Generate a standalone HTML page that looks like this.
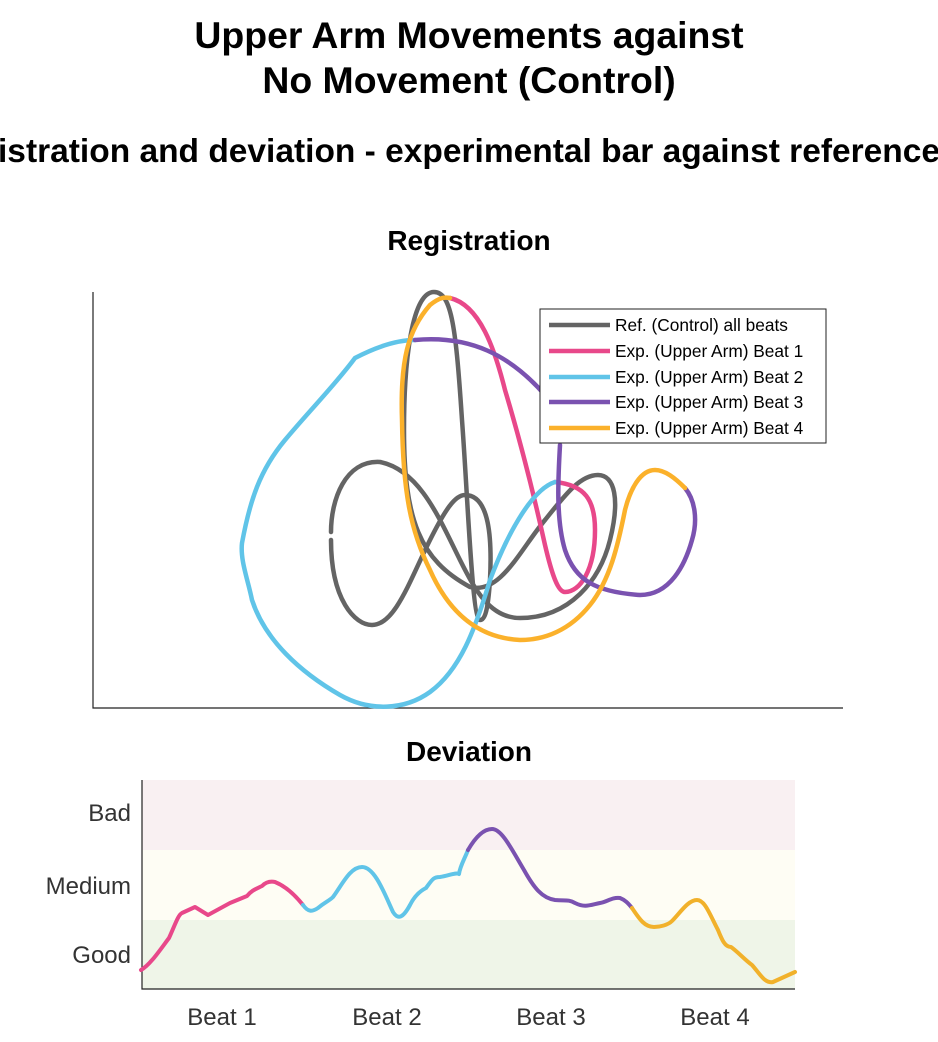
<!DOCTYPE html>
<html><head><meta charset="utf-8"><style>
body{margin:0;background:#fff;}
svg{display:block;font-family:"Liberation Sans",Arial,sans-serif;}
</style></head><body>
<svg width="938" height="1042" viewBox="0 0 938 1042" xmlns="http://www.w3.org/2000/svg">
<g font-weight="bold" text-anchor="middle" fill="#000">
<text x="469" y="48" font-size="37.4">Upper Arm Movements against</text>
<text x="469" y="93" font-size="37.4">No Movement (Control)</text>
<text x="469" y="162" font-size="33.5">istration and deviation - experimental bar against reference</text>
<text x="469" y="250" font-size="28">Registration</text>
<text x="469" y="761" font-size="28">Deviation</text>
</g>
<path d="M93,292 V708 H843" fill="none" stroke="#222" stroke-width="1.2"/>
<g fill="none" stroke-width="4.5" stroke-linecap="round" stroke-linejoin="round">
<path d="M331,540 C331,600 355,625 372,625 C395,625 410,580 430,540 C445,510 455,495 465,495 C490,495 492,540 490,580 C488,610 485,620 480,620 C472,620 468,500 462,420 C456,330 452,292 434,292 C412,292 404,360 404,430 C404,520 420,560 470,587 C500,595 520,550 545,520 C565,495 580,475 598,475 C615,475 620,500 610,540 C600,580 570,618 520,618 C490,618 475,590 460,560 C440,520 420,470 380,462 C345,460 331,500 331,532" stroke="#646464"/>
<path d="M450,298 C480,305 495,350 505,390 C520,440 535,500 545,545 C552,575 558,592 565,592 C580,592 595,570 595,530 C595,500 585,485 555,482" stroke="#e8488a"/>
<path d="M555,482 C530,490 505,540 490,580 C475,630 460,670 430,692 C405,710 370,712 340,695 C300,672 265,640 252,600 C248,580 240,560 242,543 C250,500 260,470 285,440 C310,410 335,385 355,358 C380,345 400,340 415,340" stroke="#60c4e8"/>
<path d="M415,340 C470,335 510,355 545,395 M560,445 C558,480 556,520 565,550 C575,580 595,592 640,595 C670,595 685,565 692,540 C698,520 695,500 685,488" stroke="#7a52b0"/>
<path d="M685,488 C675,478 665,470 655,470 C640,470 630,490 625,510 C618,545 610,580 590,605 C570,630 545,640 520,640 C480,638 450,615 430,570 C410,530 403,490 402,420 C400,360 408,330 430,305 C440,297 445,297 450,298" stroke="#fbb12b"/>
</g>
<rect x="540" y="309" width="286" height="134" fill="#fff" stroke="#222" stroke-width="1"/>
<g stroke-width="4.5">
<line x1="549" y1="325" x2="610" y2="325" stroke="#646464"/>
<line x1="549" y1="351" x2="610" y2="351" stroke="#e8488a"/>
<line x1="549" y1="377" x2="610" y2="377" stroke="#60c4e8"/>
<line x1="549" y1="402" x2="610" y2="402" stroke="#7a52b0"/>
<line x1="549" y1="428" x2="610" y2="428" stroke="#fbb12b"/>
</g>
<g font-size="17.3" fill="#000">
<text x="615" y="331">Ref. (Control) all beats</text>
<text x="615" y="357">Exp. (Upper Arm) Beat 1</text>
<text x="615" y="383">Exp. (Upper Arm) Beat 2</text>
<text x="615" y="408">Exp. (Upper Arm) Beat 3</text>
<text x="615" y="434">Exp. (Upper Arm) Beat 4</text>
</g>
<rect x="142" y="780" width="653" height="70" fill="#f9f0f2"/>
<rect x="142" y="850" width="653" height="70" fill="#fefdf4"/>
<rect x="142" y="920" width="653" height="69" fill="#eff5e8"/>
<path d="M142,780 V989 H795" fill="none" stroke="#222" stroke-width="1.2"/>
<g fill="none" stroke-width="4" stroke-linecap="round" stroke-linejoin="round">
<path d="M141,970 C150,965 160,950 169,938 C175,925 178,915 182,913 L195,907 L208,915 L230,903 L247,896 C252,890 256,889 262,886 C266,882 270,881 275,882 C285,886 295,895 303,905" stroke="#e8488a"/>
<path d="M303,905 C308,912 312,912 318,908 C325,902 329,901 333,897 C342,885 350,867 362,867 C375,867 385,895 393,912 C398,920 403,918 410,905 C415,895 422,890 426,888 C432,880 433,877 440,877 C448,876 456,872 459,874 C460,866 465,858 468,850" stroke="#60c4e8"/>
<path d="M468,850 C475,838 483,829 492,829 C502,829 512,850 524,870 C534,888 542,898 555,900 C565,901 568,899 575,903 C585,908 590,905 600,903 C607,902 612,897 620,898 C625,900 628,903 632,908" stroke="#7a52b0"/>
<path d="M632,908 C640,920 645,927 654,927 C660,927 668,925 672,921 C680,913 688,900 697,900 C705,900 710,915 718,930 C722,940 725,947 731,947 C738,952 745,960 752,965 C760,974 765,984 773,982 L795,972" stroke="#f1b12b"/>
</g>
<g font-size="24" fill="#333">
<text x="131" y="821" text-anchor="end">Bad</text>
<text x="131" y="894" text-anchor="end">Medium</text>
<text x="131" y="963" text-anchor="end">Good</text>
<g text-anchor="middle">
<text x="222" y="1025">Beat 1</text>
<text x="387" y="1025">Beat 2</text>
<text x="551" y="1025">Beat 3</text>
<text x="715" y="1025">Beat 4</text>
</g>
</g>
</svg>
</body></html>
